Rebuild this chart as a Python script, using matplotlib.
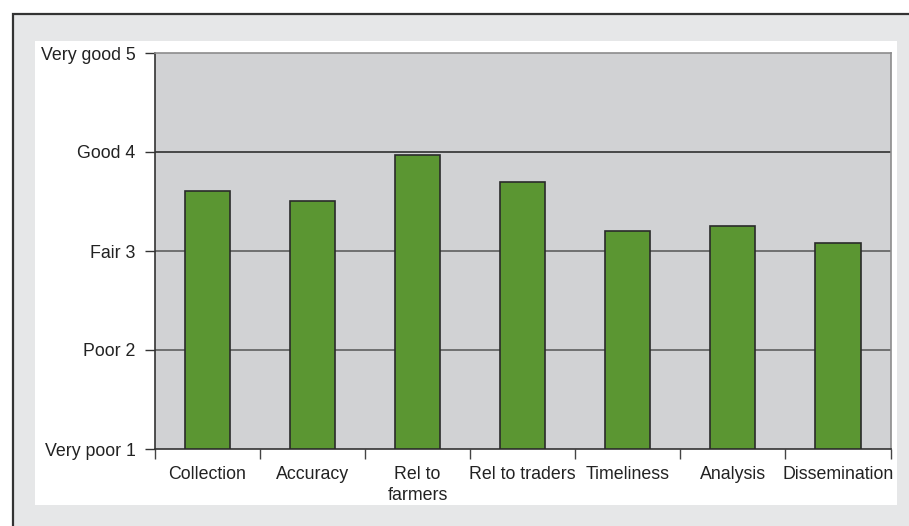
import numpy as np
import matplotlib
matplotlib.use("Agg")
import matplotlib.pyplot as plt
from matplotlib.patches import Rectangle

# ── Data ──────────────────────────────────────────────────────────
categories = ["Collection", "Accuracy", "Rel to\nfarmers", "Rel to traders",
              "Timeliness", "Analysis", "Dissemination"]
scores = [3.61, 3.51, 3.97, 3.70, 3.20, 3.25, 3.08]
ytick_vals = [1, 2, 3, 4, 5]
ytick_labels = ["Very poor 1", "Poor 2", "Fair 3", "Good 4", "Very good 5"]

plt.rcParams['font.family'] = ['Liberation Sans', 'DejaVu Sans']

W, H = 909, 526
fig = plt.figure(figsize=(W / 100, H / 100), dpi=100, facecolor="white")

# outer frame (runs off the right and bottom edges)
fig.patches.append(Rectangle((13 / W, -0.1), 1.2, 1 - 14 / H + 0.1,
                             transform=fig.transFigure, facecolor="#e6e7e8",
                             edgecolor="#333333", linewidth=1.6, zorder=0))
# white inner panel
fig.patches.append(Rectangle((35 / W, 1 - 505 / H), (897 - 35) / W, (505 - 41) / H,
                             transform=fig.transFigure, facecolor="white",
                             edgecolor="none", zorder=0.5))

ax = fig.add_axes([155 / W, 1 - 449 / H, (890.5 - 155) / W, (449 - 53) / H])
ax.set_zorder(2)
ax.set_facecolor("#d1d2d4")

x = np.arange(len(categories))
base = ytick_vals[0]
ax.bar(x, np.array(scores) - base, bottom=base, width=0.43,
       color="#5b9632", edgecolor="#2a2a2a", linewidth=1.2, zorder=3)

for v in ytick_vals[1:-1]:
    ax.axhline(v, color="#222222" if v == 4 else "#555555", linewidth=1.1, zorder=1)

ax.set_xlim(-0.5, len(categories) - 0.5)
ax.set_ylim(ytick_vals[0], ytick_vals[-1])

ax.set_yticks(ytick_vals)
ax.set_yticklabels(ytick_labels, fontsize=12.8, color="#222222")
ax.tick_params(axis="y", direction="out", length=7, width=1, color="#333333", pad=7)

ax.set_xticks(x)
ax.set_xticklabels(categories, fontsize=12.8, color="#222222", linespacing=1.35)
ax.tick_params(axis="x", which="major", length=0, pad=12)
ax.set_xticks(np.arange(len(categories) + 1) - 0.5, minor=True)
ax.tick_params(axis="x", which="minor", direction="out", length=7, width=1, color="#444444")

for side in ["left", "bottom"]:
    ax.spines[side].set_color("#333333")
    ax.spines[side].set_linewidth(1.2)
for side in ["top", "right"]:
    ax.spines[side].set_color("#8c8c8c")
    ax.spines[side].set_linewidth(1.2)

fig.savefig("out.png", dpi=100, facecolor="white")
